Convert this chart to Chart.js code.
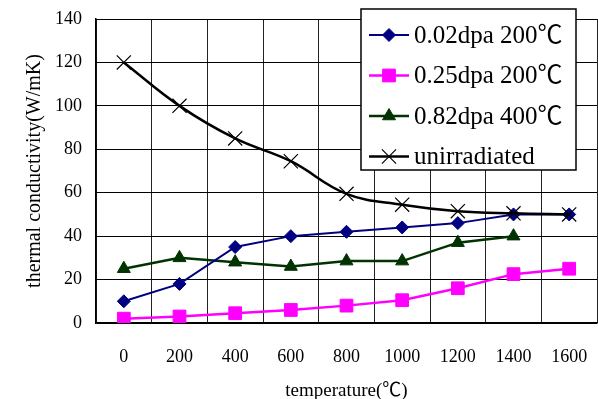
<!DOCTYPE html>
<html>
<head>
<meta charset="utf-8">
<script src="https://cdn.jsdelivr.net/npm/chart.js@4.4.0/dist/chart.umd.min.js"></script>
<style>
    html, body { margin: 0; padding: 0; background: #fff; }
</style>
</head>
<body>
<canvas id="conductivityChart" width="598" height="399"></canvas>
<script>
// Temperatures on the category axis
const temperatures = ["0", "200", "400", "600", "800", "1000", "1200", "1400", "1600"];

// Thermal conductivity (W/mK) per sample
const dpa002 = [10, 18, 35, 40, 42, 44, 46, 50, 50];
const dpa025 = [2, 3, 4.5, 6, 8, 10.5, 16, 22.5, 25];
const dpa082 = [25, 30, 28, 26, 28.5, 28.5, 37, 40, null];
const unirradiated = [120, 100, 85, 74.5, 59.5, 54.5, 51.5, 50.5, 50];

const seriesNames = ["0.02dpa 200\u2103", "0.25dpa 200\u2103", "0.82dpa 400\u2103", "unirradiated"];
const yTickValues = [0, 20, 40, 60, 80, 100, 120, 140];

const serif = '"Liberation Serif", "Noto Sans CJK SC", serif';

// Boxed legend drawn over the top right of the plot
const boxLegend = {
    id: "boxLegend",
    afterDraw(chart) {
        const ctx = chart.ctx;
        const box = { left: 361, top: 9, right: 576, bottom: 170 };
        ctx.save();
        ctx.fillStyle = "#fff";
        ctx.fillRect(box.left, box.top, box.right - box.left, box.bottom - box.top);
        ctx.strokeStyle = "#000";
        ctx.lineWidth = 1.5;
        ctx.strokeRect(box.left, box.top, box.right - box.left, box.bottom - box.top);

        chart.data.datasets.forEach((ds, i) => {
            const y = 35 + i * 40.5;
            ctx.strokeStyle = ds.borderColor;
            ctx.lineWidth = ds.borderWidth;
            ctx.beginPath();
            ctx.moveTo(369, y);
            ctx.lineTo(409, y);
            ctx.stroke();

            ctx.fillStyle = ds.pointBackgroundColor;
            ctx.strokeStyle = ds.pointBorderColor;
            ctx.lineWidth = ds.pointBorderWidth;
            Chart.helpers.drawPoint(ctx, {
                pointStyle: ds.pointStyle,
                radius: ds.pointRadius,
                rotation: 0,
                borderWidth: ds.pointBorderWidth
            }, 389, y);

            ctx.fillStyle = "#000";
            ctx.font = "25px " + serif;
            ctx.textBaseline = "middle";
            ctx.textAlign = "left";
            ctx.fillText(ds.label, 414, y + 1);
        });
        ctx.restore();
    }
};

// Drop the label overflow padding so the plot area is set by the layout alone
function noEdgePadding(scale) {
    scale.paddingLeft = 0;
    scale.paddingRight = 0;
    scale.paddingTop = 0;
    scale.paddingBottom = 0;
}

const ctx = document.getElementById("conductivityChart").getContext("2d");
new Chart(ctx, {
    type: "line",
    data: {
        labels: temperatures,
        datasets: [{
            label: seriesNames[0],
            data: dpa002,
            borderColor: "#000080",
            borderWidth: 2,
            pointStyle: "rectRot",
            pointRadius: 6.5,
            pointBackgroundColor: "#000080",
            pointBorderColor: "#000080",
            pointBorderWidth: 1,
            tension: 0,
            order: 1
        }, {
            label: seriesNames[1],
            data: dpa025,
            borderColor: "#ff00ff",
            borderWidth: 2.5,
            pointStyle: "rect",
            pointRadius: 9,
            pointBackgroundColor: "#ff00ff",
            pointBorderColor: "#ff00ff",
            pointBorderWidth: 1,
            tension: 0,
            order: 1
        }, {
            label: seriesNames[2],
            data: dpa082,
            borderColor: "#003300",
            borderWidth: 2.5,
            pointStyle: "triangle",
            pointRadius: 7.5,
            pointBackgroundColor: "#003300",
            pointBorderColor: "#003300",
            pointBorderWidth: 1,
            tension: 0,
            order: 1
        }, {
            label: seriesNames[3],
            data: unirradiated,
            borderColor: "#000",
            borderWidth: 2.5,
            pointStyle: "crossRot",
            pointRadius: 10,
            pointBackgroundColor: "#000",
            pointBorderColor: "#000",
            pointBorderWidth: 1.2,
            tension: 0.4,
            order: 0
        }]
    },
    options: {
        responsive: false,
        animation: false,
        devicePixelRatio: 1,
        layout: { autoPadding: false, padding: { top: 19, right: 1, left: 0, bottom: 0 } },
        plugins: {
            legend: { display: false },
            tooltip: { enabled: false }
        },
        scales: {
            x: {
                offset: true,
                grid: { offset: true, color: "#222", lineWidth: 1, drawTicks: false },
                border: { color: "#000", width: 1.5 },
                ticks: { color: "#000", padding: 23, font: { family: serif, size: 18 }, maxRotation: 0 },
                title: {
                    display: true,
                    text: "temperature(\u2103)",
                    color: "#000",
                    font: { family: serif, size: 19, lineHeight: 0.85 },
                    padding: { top: 0, bottom: 0 }
                },
                afterFit(scale) {
                    scale.height = 76;
                    noEdgePadding(scale);
                }
            },
            y: {
                min: yTickValues[0],
                max: yTickValues[yTickValues.length - 1],
                afterBuildTicks(scale) { scale.ticks = yTickValues.map(v => ({ value: v })); },
                grid: { color: "#000", lineWidth: 1, drawTicks: false },
                border: { color: "#000", width: 1.5 },
                ticks: { color: "#000", padding: 14, font: { family: serif, size: 18 } },
                title: {
                    display: true,
                    text: "thermal conductivity(W/mK)",
                    color: "#000",
                    font: { family: serif, size: 20 },
                    padding: { top: 23, bottom: 0 }
                },
                afterFit(scale) {
                    scale.width = 96;
                    noEdgePadding(scale);
                }
            }
        }
    },
    plugins: [boxLegend]
});
</script>
</body>
</html>
